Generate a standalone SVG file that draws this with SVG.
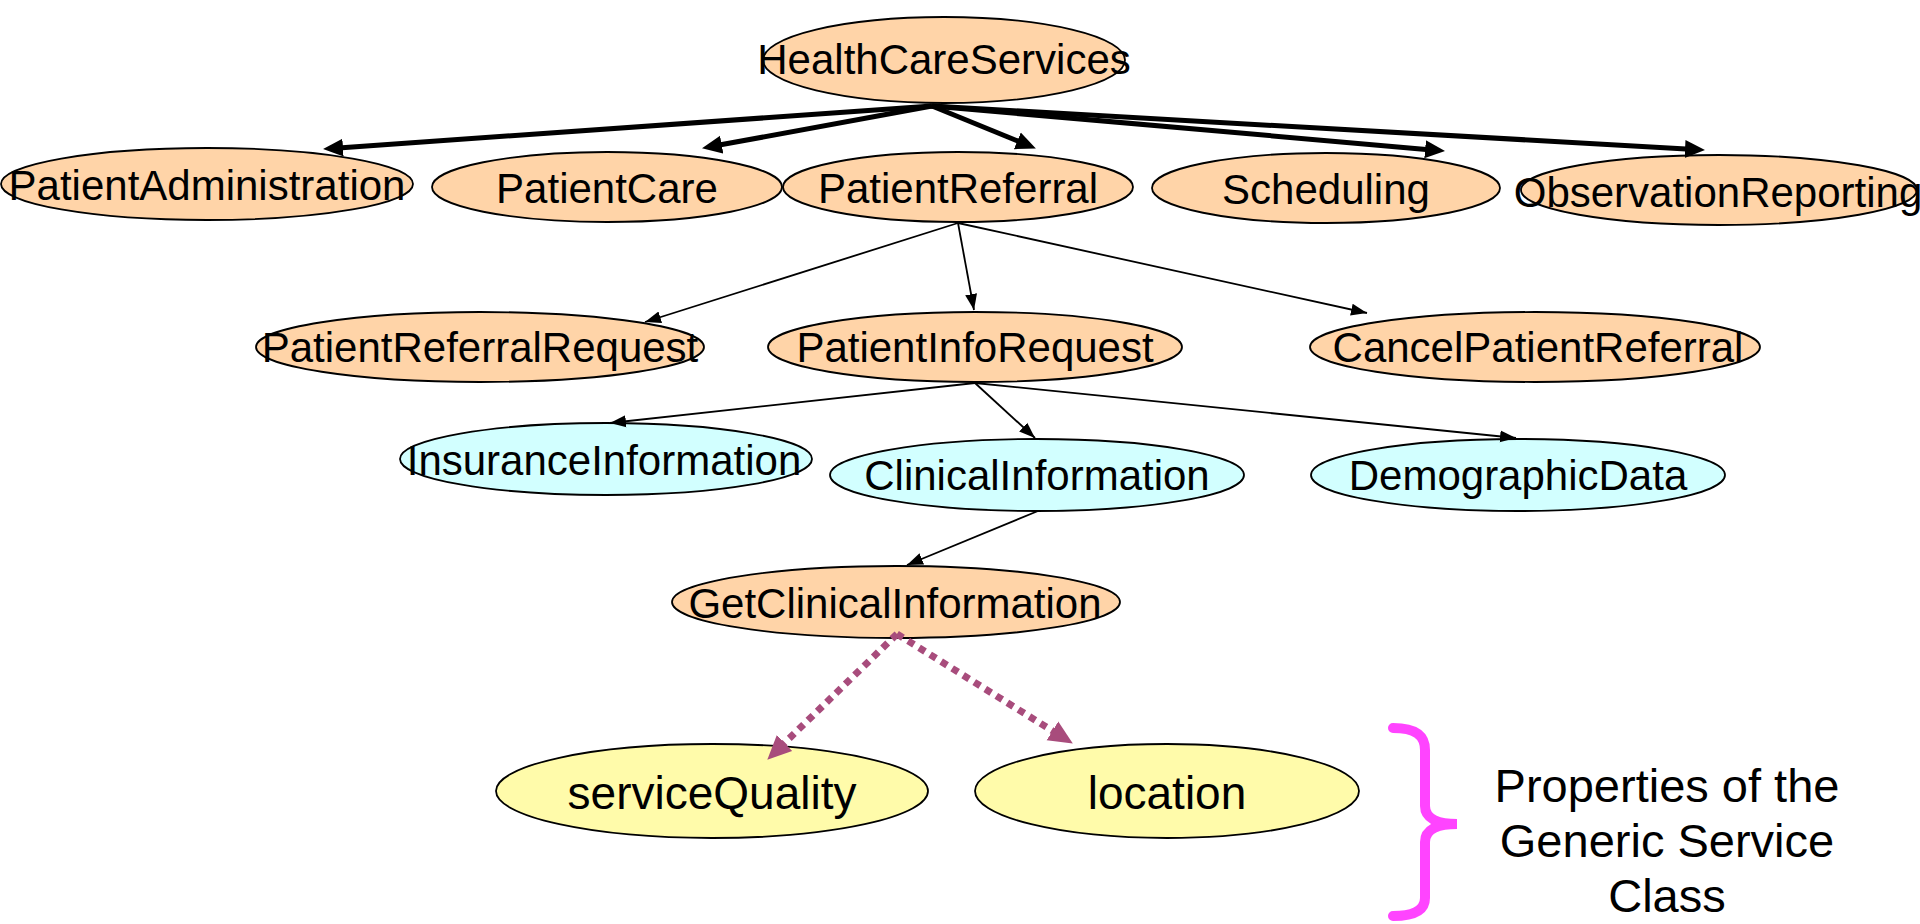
<svg xmlns="http://www.w3.org/2000/svg" width="1920" height="924" viewBox="0 0 1920 924">
<style>
.n ellipse{stroke:#000;stroke-width:1.8}
.svc{fill:#FFD4A8}
.dat{fill:#D2FFFF}
.prp{fill:#FFFBAA}
text{font-family:"Liberation Sans",Arial,sans-serif;fill:#000;text-anchor:middle}
.t{font-size:42px}
.ty{font-size:46px}
.thick{stroke:#000;stroke-width:5;fill:none;marker-end:url(#ahBig)}
.thin{stroke:#000;stroke-width:1.8;fill:none;marker-end:url(#ahSmall)}
.dot{stroke:#A84C7C;stroke-width:7;stroke-dasharray:7 6;fill:none;marker-end:url(#ahDot)}
</style>
<defs>
<marker id="ahBig" markerUnits="userSpaceOnUse" markerWidth="22" markerHeight="20" viewBox="0 -10 22 20" refX="1" refY="0" orient="auto"><path d="M0,-9 L20,0 L0,9 z" fill="#000"/></marker>
<marker id="ahSmall" markerUnits="userSpaceOnUse" markerWidth="18" markerHeight="14" viewBox="0 -7 18 14" refX="16" refY="0" orient="auto"><path d="M0,-6 L16,0 L0,6 z" fill="#000"/></marker>
<marker id="ahDot" markerUnits="userSpaceOnUse" markerWidth="26" markerHeight="24" viewBox="0 -12 26 24" refX="1" refY="0" orient="auto"><path d="M0,-11 L24,0 L0,11 z" fill="#A84C7C"/></marker>
</defs>
<rect width="1920" height="924" fill="#fff"/>
<g id="nodes">
<g id="HealthCareServices" class="n"><ellipse class="svc" cx="944" cy="60" rx="181" ry="43"/><text class="t" x="944" y="74">HealthCareServices</text></g>
<g id="PatientAdministration" class="n"><ellipse class="svc" cx="207" cy="184" rx="206" ry="36"/><text class="t" x="207" y="200">PatientAdministration</text></g>
<g id="PatientCare" class="n"><ellipse class="svc" cx="607" cy="187" rx="175" ry="35"/><text class="t" x="607" y="203">PatientCare</text></g>
<g id="PatientReferral" class="n"><ellipse class="svc" cx="958" cy="187" rx="175" ry="35"/><text class="t" x="958" y="203">PatientReferral</text></g>
<g id="Scheduling" class="n"><ellipse class="svc" cx="1326" cy="188" rx="174" ry="35"/><text class="t" x="1326" y="204">Scheduling</text></g>
<g id="ObservationReporting" class="n"><ellipse class="svc" cx="1719" cy="190" rx="198" ry="35"/><text class="t" x="1718" y="207">ObservationReporting</text></g>
<g id="PatientReferralRequest" class="n"><ellipse class="svc" cx="480" cy="347" rx="224" ry="35"/><text class="t" x="480" y="362">PatientReferralRequest</text></g>
<g id="PatientInfoRequest" class="n"><ellipse class="svc" cx="975" cy="347" rx="207" ry="35"/><text class="t" x="975" y="362">PatientInfoRequest</text></g>
<g id="CancelPatientReferral" class="n"><ellipse class="svc" cx="1535" cy="347" rx="225" ry="35"/><text class="t" x="1538" y="362">CancelPatientReferral</text></g>
<g id="InsuranceInformation" class="n"><ellipse class="dat" cx="606" cy="459" rx="206" ry="36"/><text class="t" x="604" y="475">InsuranceInformation</text></g>
<g id="ClinicalInformation" class="n"><ellipse class="dat" cx="1037" cy="475" rx="207" ry="36"/><text class="t" x="1037" y="490">ClinicalInformation</text></g>
<g id="DemographicData" class="n"><ellipse class="dat" cx="1518" cy="475" rx="207" ry="36"/><text class="t" x="1518" y="490">DemographicData</text></g>
<g id="GetClinicalInformation" class="n"><ellipse class="svc" cx="896" cy="602" rx="224" ry="36"/><text class="t" x="895" y="618">GetClinicalInformation</text></g>
<g id="serviceQuality" class="n"><ellipse class="prp" cx="712" cy="791" rx="216" ry="47"/><text class="ty" x="712" y="809">serviceQuality</text></g>
<g id="location" class="n"><ellipse class="prp" cx="1167" cy="791" rx="192" ry="47"/><text class="ty" x="1167" y="809">location</text></g>
</g>
<g id="connectors">
<line class="thick" x1="932" y1="106" x2="342" y2="147.7"/>
<line class="thick" x1="932" y1="106" x2="720.7" y2="144.8"/>
<line class="thick" x1="932" y1="106" x2="1018.3" y2="141.2"/>
<line class="thick" x1="932" y1="106" x2="1426.1" y2="149.4"/>
<line class="thick" x1="932" y1="106" x2="1686" y2="149"/>
<line class="thin" x1="958" y1="223" x2="645" y2="322"/>
<line class="thin" x1="958" y1="223" x2="974" y2="310"/>
<line class="thin" x1="958" y1="223" x2="1367" y2="313"/>
<line class="thin" x1="975" y1="383" x2="610" y2="423"/>
<line class="thin" x1="975" y1="383" x2="1035" y2="438"/>
<line class="thin" x1="975" y1="383" x2="1516" y2="438"/>
<line class="thin" x1="1038" y1="511" x2="907" y2="565"/>
<line class="dot" x1="897" y1="634" x2="783.8" y2="743.7"/>
<line class="dot" x1="897" y1="634" x2="1053.3" y2="731.4"/>
</g>
<g id="legend">
<path d="M1393,728 C1415,728 1425,735 1425,750 L1425,806 C1425,818 1437,824 1457,824 C1437,824 1425,830 1425,842 L1425,898 C1425,910 1415,916 1393,916" fill="none" stroke="#FF44FF" stroke-width="10" stroke-linecap="round"/>
<text x="1667" y="802" style="font-size:47px">Properties of the</text>
<text x="1667" y="857" style="font-size:47px">Generic Service</text>
<text x="1667" y="912" style="font-size:47px">Class</text>
</g>
</svg>
